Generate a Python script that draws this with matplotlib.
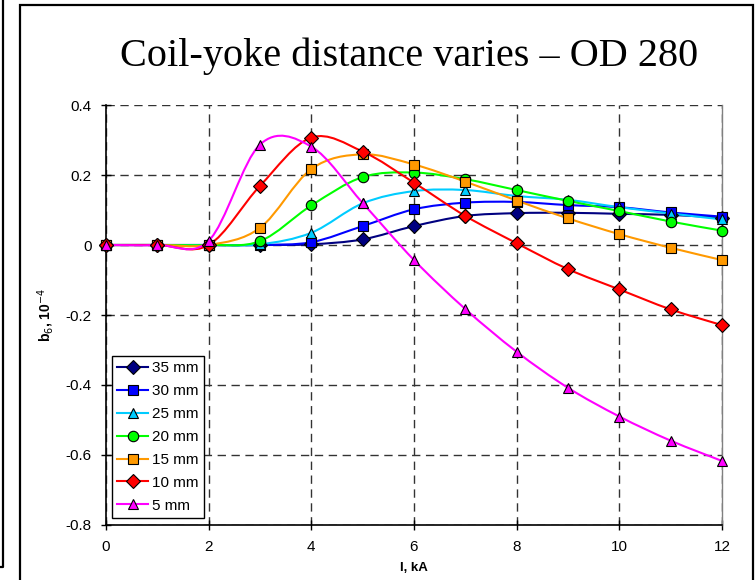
import matplotlib
matplotlib.use('Agg')
import matplotlib.pyplot as plt
from matplotlib.path import Path
from matplotlib.patches import PathPatch, Rectangle
from matplotlib.lines import Line2D
import numpy as np

plt.rcParams['font.family'] = ['Liberation Sans', 'DejaVu Sans']

current_ka = [0, 1, 2, 3, 4, 5, 6, 7, 8, 9, 10, 11, 12]

b6_35mm = [0, 0, 0, 0, 0.002, 0.016, 0.054, 0.083, 0.091, 0.092, 0.089, 0.086, 0.078]
b6_30mm = [0, 0, 0, 0, 0.008, 0.054, 0.102, 0.121, 0.123, 0.114, 0.108, 0.093, 0.081]
b6_25mm = [0, 0, 0, 0.002, 0.035, 0.119, 0.154, 0.157, 0.140, 0.129, 0.108, 0.090, 0.073]
b6_20mm = [0, 0, 0, 0.011, 0.113, 0.194, 0.207, 0.188, 0.157, 0.126, 0.097, 0.067, 0.041]
b6_15mm = [0, 0, 0, 0.049, 0.217, 0.259, 0.230, 0.181, 0.127, 0.076, 0.031, -0.008, -0.043]
b6_10mm = [0, 0, 0, 0.169, 0.307, 0.267, 0.178, 0.083, 0.005, -0.069, -0.127, -0.184, -0.229]
b6_5mm = [0, 0, 0.012, 0.287, 0.281, 0.120, -0.043, -0.183, -0.305, -0.408, -0.490, -0.559, -0.617]

labels = ['35 mm', '30 mm', '25 mm', '20 mm', '15 mm', '10 mm', '5 mm']
series = [b6_35mm, b6_30mm, b6_25mm, b6_20mm, b6_15mm, b6_10mm, b6_5mm]
colors = ['#000080', '#0000FF', '#00CCFF', '#00FF00', '#FF9900', '#FF0000', '#FF00FF']
markers = ['D', 's', '^', 'o', 's', 'D', '^']
msizes = [7, 7, 7.5, 7.5, 7, 7.5, 7.5]


def smooth_path(x, y):
    # Excel-like smoothed line: cubic Bezier through the points (Catmull-Rom tangents)
    pts = np.column_stack([x, y]).astype(float)
    ext = np.vstack([pts[0], pts, pts[-1]])
    verts = [pts[0]]
    codes = [Path.MOVETO]
    for i in range(len(pts) - 1):
        p0, p1, p2, p3 = ext[i], ext[i + 1], ext[i + 2], ext[i + 3]
        verts += [p1 + (p2 - p0) / 6, p2 - (p3 - p1) / 6, p2]
        codes += [Path.CURVE4] * 3
    return Path(verts, codes)


fig = plt.figure(figsize=(7.56, 5.8), dpi=100)
ax = fig.add_axes([106 / 756, 1 - 525 / 580, 616 / 756, 420 / 580])

for vals, c, m, ms in zip(series, colors, markers, msizes):
    ax.add_patch(PathPatch(smooth_path(current_ka, vals), facecolor='none',
                           edgecolor=c, lw=1.5, zorder=3))
    ax.plot(current_ka, vals, ls='none', marker=m, ms=ms, mfc=c, mec='black',
            mew=0.8, zorder=4, clip_on=False)

ax.set_xlim(0, 12)
ax.set_ylim(-0.8, 0.4)
ax.set_xticks(np.arange(0, 13, 2))
ax.set_yticks(np.arange(-0.8, 0.41, 0.2))
ax.set_yticklabels(['-0.8', '-0.6', '-0.4', '-0.2', '0', '0.2', '0.4'])
ax.tick_params(direction='inout', length=7, width=1, labelsize=11, pad=7)

ax.grid(True, color='#333333', ls=(0, (6, 4)), lw=1)
for s in ['left', 'bottom']:
    ax.spines[s].set_color('black')
    ax.spines[s].set_linewidth(1.2)
ax.spines['top'].set_visible(False)
ax.spines['right'].set_color('#808080')
ax.spines['right'].set_linewidth(1)

ax.set_xlabel('I, kA', fontsize=9.5, fontweight='bold', labelpad=6)
ax.set_ylabel(r'b$_6$, 10$^{-4}$', fontsize=10, fontweight='bold', labelpad=7)

handles = [Line2D([0], [0], color=c, lw=1.5, marker=m, ms=ms, mfc=c, mec='black', mew=0.8)
           for c, m, ms in zip(colors, markers, msizes)]
leg = ax.legend(handles, labels, loc='lower left', bbox_to_anchor=(0.0097, 0.0167),
                borderaxespad=0, fontsize=11, fancybox=False, framealpha=1,
                edgecolor='black', handlelength=2.0, handletextpad=0.3,
                labelspacing=0.58, borderpad=0.35)
leg.get_frame().set_linewidth(1)

fig.text(409 / 756, 1 - 56 / 580, 'Coil-yoke distance varies \u2013 OD 280',
         ha='center', va='center', fontsize=29, family='Liberation Serif')

# outer frames
fig.patches.append(Rectangle((19.5 / 756, -0.05), (753 - 19.5) / 756, 1.05 - 5 / 580,
                             transform=fig.transFigure, fill=False, lw=1.6,
                             edgecolor='black'))
fig.lines.append(Line2D([-0.01, 3 / 756, 3 / 756], [1 - 567 / 580, 1 - 567 / 580, 1.01],
                        transform=fig.transFigure, color='black', lw=1.6))

fig.savefig('out.png', dpi=100)
